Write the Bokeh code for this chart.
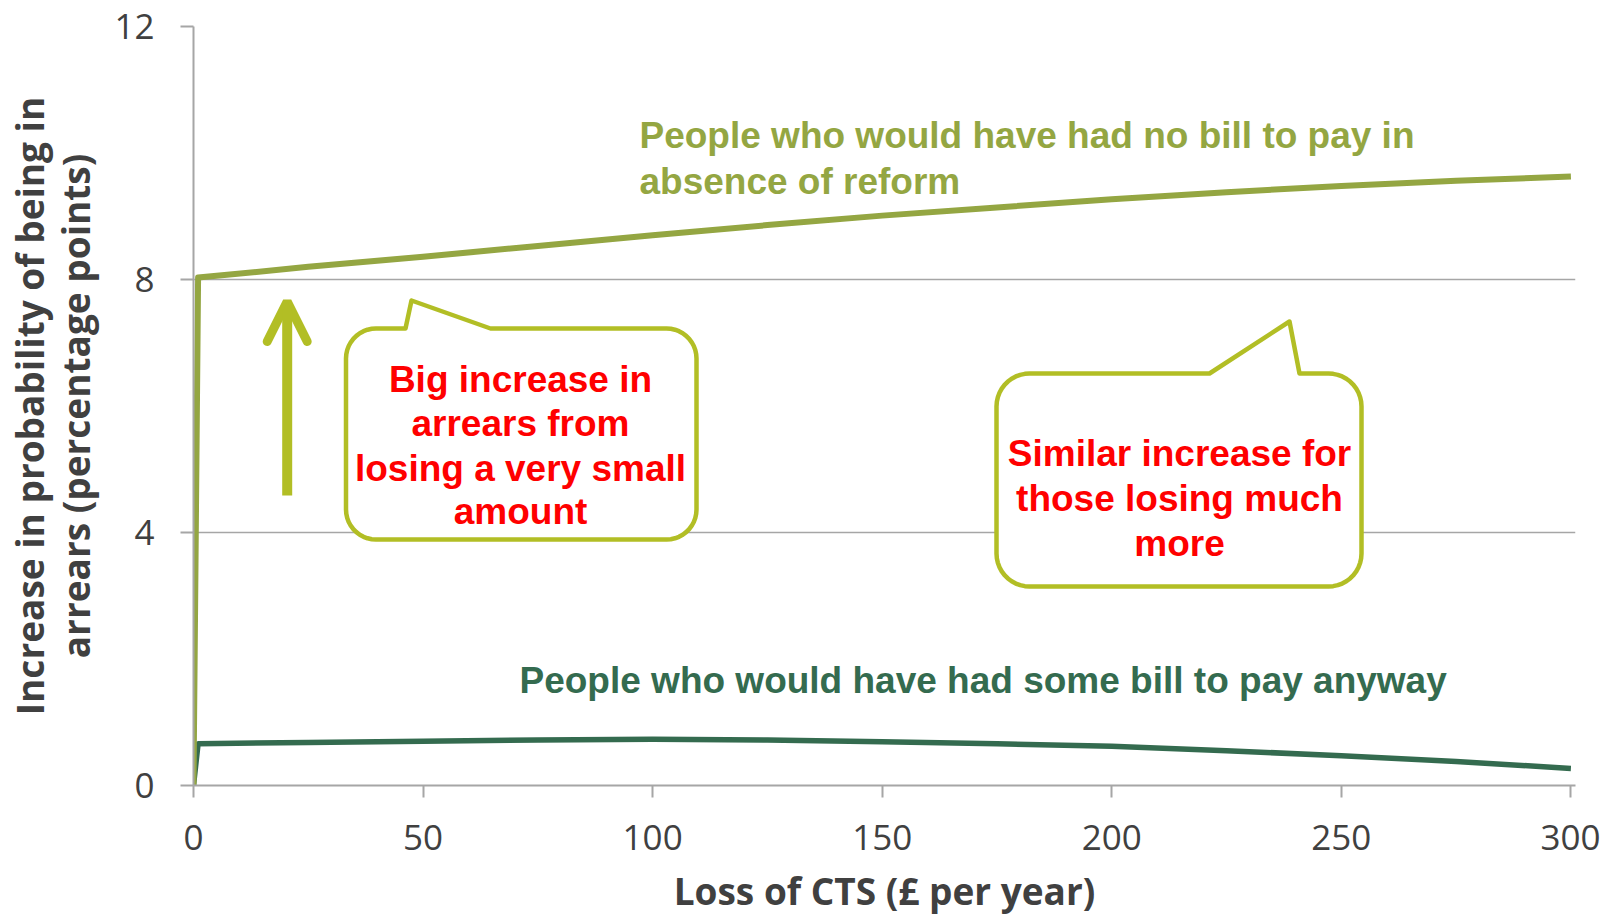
import numpy as np
from bokeh.plotting import figure
from bokeh.models import Range1d, Label, Arrow, OpenHead, FixedTicker
from bokeh.embed import file_html
from bokeh.resources import INLINE

# ---------------- data ----------------
loss = [0, 1, 25, 50, 75, 100, 125, 150, 175, 200, 225, 250, 275, 300]
no_bill = [0, 8.03, 8.20, 8.36, 8.53, 8.70, 8.86, 9.01, 9.14, 9.27, 9.38, 9.48, 9.56, 9.63]
some_bill = [0, 0.66, 0.68, 0.70, 0.72, 0.73, 0.72, 0.69, 0.66, 0.62, 0.55, 0.47, 0.38, 0.27]
x_ticks = [0, 50, 100, 150, 200, 250, 300]
y_ticks = [0, 4, 8, 12]

x_title = "Loss of CTS (£ per year)"
y_title = "Increase in probability of being in\narrears (percentage points)"
label_no_bill = ["People who would have had no bill to pay in", "absence of reform"]
label_some_bill = "People who would have had some bill to pay anyway"
callout_left_text = ["Big increase in", "arrears from", "losing a very small", "amount"]
callout_right_text = ["Similar increase for", "those losing much", "more"]

# ---------------- style ----------------
C_LIGHT = "#94A642"
C_DARK = "#346B4F"
C_CALL = "#B2BE25"
C_RED = "#FF0000"
C_GRID = "#A6A6A6"
C_TEXT = "#404040"

W, H = 1600, 918
X0, X1 = 0, 301
Y0, Y1 = 0, 12
BL, BR, BT, BB = 193, 25, 26, 133
FW = W - BL - BR
FH = H - BT - BB
PAGE = 0
F_LEFT = PAGE + BL          # frame left in page px
F_BOTTOM = PAGE + BT + FH   # frame bottom in page px
PXU_X = FW / (X1 - X0)
PXU_Y = FH / (Y1 - Y0)
TXT = "37px"


def dx(px):
    return X0 + (px - F_LEFT) / PXU_X


def dy(py):
    return Y0 + (F_BOTTOM - py) / PXU_Y


def bubble(left, right, top, bottom, r, tl, tip, tr):
    pts = [(tr, top)]
    for a in np.linspace(90, 0, 12):
        t = np.radians(a)
        pts.append((right - r + r * np.cos(t), top + r - r * np.sin(t)))
    for a in np.linspace(0, -90, 12):
        t = np.radians(a)
        pts.append((right - r + r * np.cos(t), bottom - r - r * np.sin(t)))
    for a in np.linspace(270, 180, 12):
        t = np.radians(a)
        pts.append((left + r + r * np.cos(t), bottom - r - r * np.sin(t)))
    for a in np.linspace(180, 90, 12):
        t = np.radians(a)
        pts.append((left + r + r * np.cos(t), top + r - r * np.sin(t)))
    pts += [(tl, top), tip, (tr, top)]
    return [dx(q[0]) for q in pts], [dy(q[1]) for q in pts]


p = figure(width=W, height=H, x_range=Range1d(X0, X1), y_range=Range1d(Y0, Y1),
           output_backend="svg", toolbar_location=None,
           min_border_left=BL, min_border_right=BR, min_border_top=BT, min_border_bottom=BB)
p.outline_line_color = None
p.background_fill_color = "white"

p.xgrid.visible = False
p.ygrid.ticker = FixedTicker(ticks=y_ticks)
p.ygrid.grid_line_color = C_GRID
p.ygrid.grid_line_width = 1.6

for ax in (p.xaxis[0], p.yaxis[0]):
    ax.axis_line_color = C_GRID
    ax.axis_line_width = 2
    ax.major_tick_line_color = C_GRID
    ax.major_tick_line_width = 2
    ax.minor_tick_line_color = None
    ax.major_tick_in = 0
    ax.major_label_text_font = "Open Sans"
    ax.major_label_text_font_size = "35px"
    ax.major_label_text_color = C_TEXT
    ax.axis_label_text_font = "Open Sans"
    ax.axis_label_text_font_style = "bold"
    ax.axis_label_text_font_size = "37px"
    ax.axis_label_text_color = C_TEXT

p.xaxis.ticker = FixedTicker(ticks=x_ticks)
p.yaxis.ticker = FixedTicker(ticks=y_ticks)
p.xaxis.major_tick_out = 12
p.yaxis.major_tick_out = 13
p.xaxis.major_label_standoff = 27
p.yaxis.major_label_standoff = 26
p.xaxis.axis_label = x_title
p.xaxis.axis_label_standoff = 12
p.yaxis.axis_label = y_title
p.yaxis.axis_label_text_line_height = 0.91
p.yaxis.axis_label_standoff = 10

# series
p.line(loss, some_bill, line_color=C_DARK, line_width=5.5, line_join="round")
p.line(loss, no_bill, line_color=C_LIGHT, line_width=6, line_join="round")

# series labels
for txt, py in zip(label_no_bill, [135, 180.5]):
    p.add_layout(Label(x=dx(639), y=dy(py), text=txt, text_font="Liberation Sans",
                       text_font_style="bold", text_font_size=TXT, text_color=C_LIGHT,
                       text_baseline="middle", text_align="left"))
p.add_layout(Label(x=dx(519), y=dy(679.6), text=label_some_bill, text_font="Liberation Sans",
                   text_font_style="bold", text_font_size=TXT, text_color=C_DARK,
                   text_baseline="middle", text_align="left"))

# arrow
p.add_layout(Arrow(end=OpenHead(size=40, line_width=9, line_color=C_CALL, line_cap="round"),
                   x_start=dx(286.7), y_start=dy(495), x_end=dx(286.7), y_end=dy(301),
                   line_color=C_CALL, line_width=10))

# callouts
bx, by = bubble(345.5, 696, 328, 539, 30, 405, (411, 300), 490)
p.patch(bx, by, fill_color="white", line_color=C_CALL, line_width=4.5, line_join="round")
bx, by = bubble(996, 1361, 373, 586, 33, 1209, (1289, 321), 1299)
p.patch(bx, by, fill_color="white", line_color=C_CALL, line_width=4.5, line_join="round")

for txt, py in zip(callout_left_text, [379, 423, 468, 511]):
    p.add_layout(Label(x=dx(520), y=dy(py), text=txt, text_font="Liberation Sans",
                       text_font_style="bold", text_font_size=TXT, text_color=C_RED,
                       text_baseline="middle", text_align="center"))
for txt, py in zip(callout_right_text, [453, 498, 542.5]):
    p.add_layout(Label(x=dx(1179), y=dy(py), text=txt, text_font="Liberation Sans",
                       text_font_style="bold", text_font_size=TXT, text_color=C_RED,
                       text_baseline="middle", text_align="center"))

open("out.html", "w").write(file_html(p, INLINE))
